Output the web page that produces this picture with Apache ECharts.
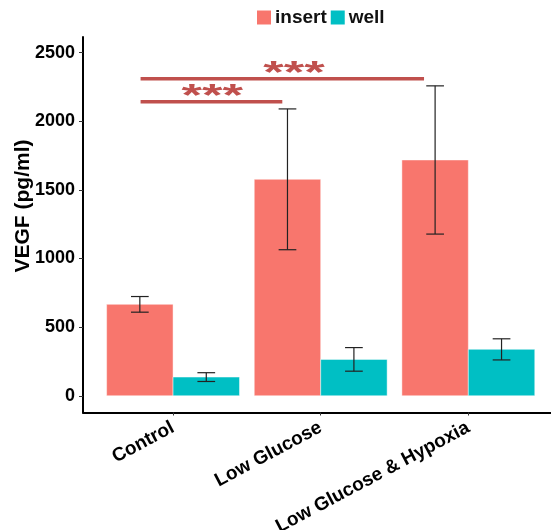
<!DOCTYPE html>
<html>
<head>
<meta charset="utf-8">
<script src="https://cdn.jsdelivr.net/npm/echarts@6/dist/echarts.min.js"></script>
<style>
  html, body { margin: 0; padding: 0; background: #fff; }
  #chart { width: 551px; height: 530px; }
</style>
</head>
<body>
<div id="chart"></div>
<script>
  // data
  var categories = ['Control', 'Low Glucose', 'Low Glucose & Hypoxia'];
  var insertMean = [666, 1577, 1718];
  var insertErr = [57, 513, 540];
  var wellMean = [136, 265, 338];
  var wellErr = [32, 86, 77];
  var yTicks = [0, 500, 1000, 1500, 2000, 2500];

  // significance brackets (x in category units, 1 = Control)
  var sigStart = [0.78, 0.78];
  var sigEnd = [1.74, 2.70];
  var sigLevel = [2143, 2310];
  var sigTextX = [1.265, 1.82];
  var sigText = ['***', '***'];

  var colInsert = '#F8766D';
  var colWell = '#00BFC4';
  var colSig = '#C0504D';

  var myChart = echarts.init(document.getElementById('chart'));

  function barSeries(name, means, errs, offset, color) {
    var data = [];
    for (var i = 0; i < means.length; i++) {
      data.push([i + 1, means[i], errs[i]]);
    }
    return {
      name: name,
      type: 'custom',
      color: color,
      itemStyle: { color: color },
      data: data,
      renderItem: function (params, api) {
        var x = api.value(0) + offset;
        var v = api.value(1);
        var e = api.value(2);
        var p0 = api.coord([x - 0.225, 0]);
        var p1 = api.coord([x + 0.225, v]);
        var top = api.coord([x, v + e]);
        var bot = api.coord([x, v - e]);
        var capL = api.coord([x - 0.06, 0])[0];
        var capR = api.coord([x + 0.06, 0])[0];
        var errStyle = { stroke: '#222', lineWidth: 1.2 };
        return {
          type: 'group',
          children: [
            {
              type: 'rect',
              shape: { x: p0[0], y: p1[1], width: p1[0] - p0[0], height: p0[1] - p1[1] },
              style: { fill: color, stroke: 'rgba(255,255,255,0.45)', lineWidth: 1 }
            },
            { type: 'line', shape: { x1: top[0], y1: top[1], x2: bot[0], y2: bot[1] }, style: errStyle },
            { type: 'line', shape: { x1: capL, y1: top[1], x2: capR, y2: top[1] }, style: errStyle },
            { type: 'line', shape: { x1: capL, y1: bot[1], x2: capR, y2: bot[1] }, style: errStyle }
          ]
        };
      }
    };
  }

  var sigData = [];
  for (var i = 0; i < sigStart.length; i++) {
    sigData.push([sigStart[i], sigEnd[i], sigLevel[i], sigTextX[i], i]);
  }

  var option = {
    animation: false,
    legend: {
      data: ['insert', 'well'],
      left: 257,
      top: 8,
      padding: 0,
      icon: 'rect',
      itemWidth: 14,
      itemHeight: 14,
      itemGap: 4,
      textStyle: { fontFamily: 'Liberation Sans', fontWeight: 'bold', fontSize: 19, color: '#111', padding: [0, 0, 0, -1] }
    },
    grid: { left: 83, right: 0, top: 37, bottom: 117.5, containLabel: false, outerBoundsMode: 'none' },
    xAxis: {
      type: 'value',
      min: 0.39,
      max: 3.56,
      splitLine: { show: false },
      axisLine: { onZero: false, lineStyle: { color: '#000', width: 2 } },
      axisTick: { customValues: [1, 2, 3], length: 3, lineStyle: { color: '#333', width: 1 } },
      axisLabel: {
        customValues: [1, 2, 3],
        formatter: function (v) { return categories[Math.round(v) - 1]; },
        rotate: 28,
        margin: 14,
        fontFamily: 'Liberation Sans',
        fontWeight: 'bold',
        fontSize: 19,
        color: '#000'
      }
    },
    yAxis: {
      type: 'value',
      min: -122,
      max: 2614,
      splitLine: { show: false },
      axisLine: { show: true, onZero: false, lineStyle: { color: '#000', width: 2 } },
      axisTick: { show: true, customValues: yTicks, length: 4, lineStyle: { color: '#333', width: 1 } },
      axisLabel: {
        customValues: yTicks,
        formatter: function (v) { return String(v); },
        margin: 8,
        fontFamily: 'Liberation Sans',
        fontWeight: 'bold',
        fontSize: 18,
        color: '#000'
      }
    },
    graphic: [{
      type: 'text',
      x: 23,
      y: 206,
      rotation: Math.PI / 2,
      style: {
        text: 'VEGF (pg/ml)',
        fontFamily: 'Liberation Sans',
        fontWeight: 'bold',
        fontSize: 21,
        fill: '#000',
        align: 'center',
        verticalAlign: 'middle'
      }
    }],
    series: [
      barSeries('insert', insertMean, insertErr, -0.225, colInsert),
      barSeries('well', wellMean, wellErr, 0.225, colWell),
      {
        name: 'sig',
        type: 'custom',
        data: sigData,
        silent: true,
        renderItem: function (params, api) {
          var a = api.coord([api.value(0), api.value(2)]);
          var b = api.coord([api.value(1), api.value(2)]);
          var t = api.coord([api.value(3), api.value(2)]);
          return {
            type: 'group',
            children: [
              { type: 'line', shape: { x1: a[0], y1: a[1], x2: b[0], y2: b[1] }, style: { stroke: colSig, lineWidth: 3.5 } },
              {
                type: 'text',
                x: t[0],
                y: t[1] - 4,
                scaleX: 1.7,
                style: {
                  text: sigText[api.value(4)],
                  fontFamily: 'Liberation Sans',
                  fontWeight: 'bold',
                  fontSize: 31,
                  fill: colSig,
                  align: 'center',
                  verticalAlign: 'middle'
                }
              }
            ]
          };
        }
      }
    ]
  };

  myChart.setOption(option);
</script>
</body>
</html>
